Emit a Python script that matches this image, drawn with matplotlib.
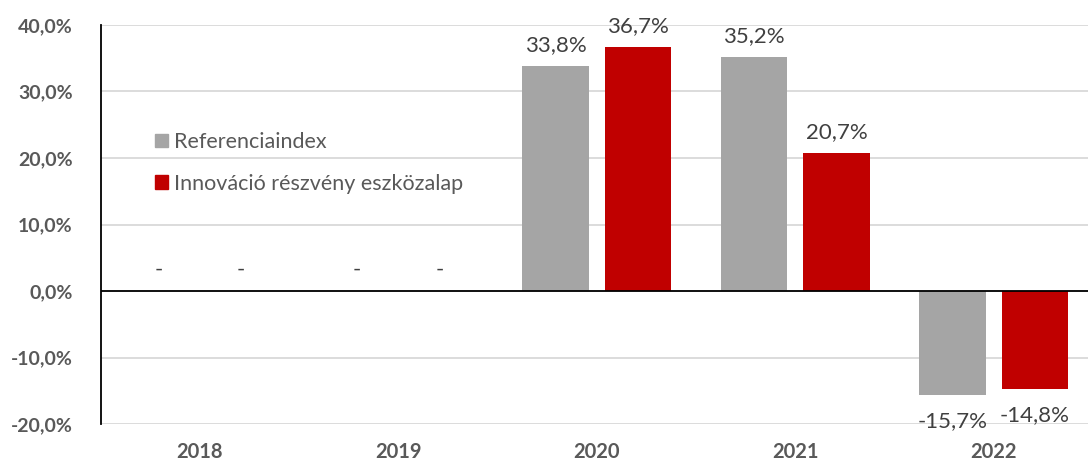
import matplotlib
matplotlib.use("Agg")
import matplotlib.pyplot as plt
from matplotlib.patches import Patch
import numpy as np

years = ["2018", "2019", "2020", "2021", "2022"]
referencia = [0.0, 0.0, 33.8, 35.2, -15.7]
innovacio = [0.0, 0.0, 36.7, 20.7, -14.8]
series_names = ["Referenciaindex", "Innováció részvény eszközalap"]
colors = ["#A5A5A5", "#C00000"]
yticks = [-20, -10, 0, 10, 20, 30, 40]

plt.rcParams['font.family'] = ['Lato', 'DejaVu Sans']

fig = plt.figure(figsize=(10.88, 4.61), dpi=100)
ax = fig.add_axes([100.5/1088, 1-424/461, 992.5/1088, 399/461])

x = np.arange(len(years))
w = 0.333
off = 0.208
for vals, c, dx in [(referencia, colors[0], -off), (innovacio, colors[1], off)]:
    ax.bar(x + dx, vals, width=w, color=c, zorder=3)
    for xi, v in zip(x + dx, vals):
        txt = "-" if v == 0 else f"{v:.1f}%".replace(".", ",")
        if v >= 0:
            ax.annotate(txt, (xi, v), xytext=(0, 8), textcoords="offset points",
                        ha="center", va="bottom", fontsize=16, color="#404040")
        else:
            ax.annotate(txt, (xi, v), xytext=(0, -11), textcoords="offset points",
                        ha="center", va="top", fontsize=16, color="#404040")

ax.set_xlim(-0.5, len(years) - 0.5)
ax.set_ylim(-20, 40)
ax.set_yticks(yticks)
ax.set_yticklabels([f"{t:.1f}%".replace(".", ",") for t in yticks],
                   fontsize=14, fontweight="bold", color="#595959")
ax.set_xticks(x)
ax.set_xticklabels(years, fontsize=14.5, fontweight="bold", color="#595959")
ax.tick_params(axis="both", length=0)
ax.tick_params(axis="x", pad=13)
ax.tick_params(axis="y", pad=20)
ax.grid(axis="y", color="#D9D9D9", linewidth=1.3, zorder=0)
ax.axhline(0, color="black", linewidth=1.3, zorder=4)
for s in ["top", "right", "bottom"]:
    ax.spines[s].set_visible(False)
ax.spines["left"].set_color("black")
ax.spines["left"].set_linewidth(1.3)

handles = [Patch(color=colors[0]), Patch(color=colors[1])]
ax.legend(handles, series_names, loc="upper left", bbox_to_anchor=(0.035, 0.78),
          frameon=False, fontsize=15.5, handlelength=0.6, handleheight=0.6,
          handletextpad=0.3, labelspacing=1.0, labelcolor="#595959")

fig.savefig("out.png", dpi=100)
